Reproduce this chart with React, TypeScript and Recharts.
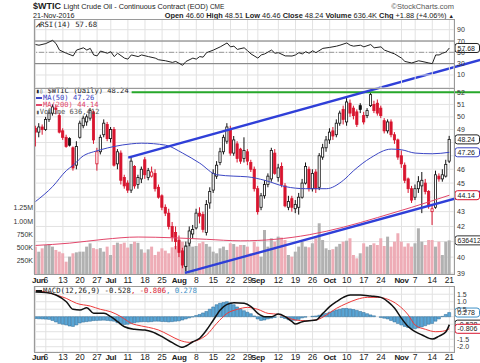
import React from "react";
import {
  Bar,
  CartesianGrid,
  Cell,
  ComposedChart,
  Line,
  ReferenceLine,
  XAxis,
  YAxis,
} from "recharts";

// daily candles, Jun 1 .. Nov 21 2016 (index = trading day)
const opens = [
  49.1, 48.8, 49.2, 49.0, 49.8, 50.3, 50.7, 50.1, 48.9, 48.4, 48.3, 47.6, 46.3, 48.4, 49.3, 49.6, 49.9, 50.4, 46.4, 47.3,
  48.6, 49.4, 48.3, 49.0, 46.4, 47.2, 45.4, 45.0, 44.5, 46.2, 44.9, 45.3, 46.7, 45.4, 45.5, 45.7, 44.7, 44.1, 43.3, 42.9,
  42.0, 41.6, 41.1, 40.4, 39.4, 40.9, 41.5, 41.9, 42.9, 42.8, 41.6, 43.6, 44.5, 45.5, 46.5, 47.3, 48.1, 49.0, 47.2, 47.9,
  47.5, 46.8, 47.3, 46.5, 46.0, 44.6, 43.3, 44.1, 44.9, 45.3, 47.2, 45.4, 46.2, 44.8, 43.3, 43.9, 43.2, 43.3, 44.0, 45.0,
  46.0, 44.6, 45.8, 44.7, 46.9, 47.6, 48.2, 48.9, 48.6, 49.5, 50.6, 49.6, 51.1, 50.7, 50.4, 50.9, 50.1, 50.1, 50.9, 51.0,
  51.1, 50.7, 49.7, 48.9, 49.6, 48.6, 48.2, 47.0, 46.3, 45.3, 44.6, 44.0, 44.6, 44.8, 45.0, 44.4, 43.0, 43.3, 45.5, 45.3,
  45.5, 46.6,
];
const highs = [
  49.3, 49.5, 49.4, 50.0, 50.6, 51.0, 51.0, 50.3, 49.1, 48.6, 48.4, 47.7, 48.1, 49.7, 50.1, 50.2, 50.7, 50.5, 47.6, 48.6,
  49.8, 49.6, 49.2, 49.2, 47.5, 47.4, 45.6, 45.2, 46.9, 46.3, 45.6, 46.2, 46.9, 46.1, 46.2, 46.0, 44.9, 44.2, 43.5, 43.2,
  42.3, 42.0, 41.4, 40.6, 41.0, 42.0, 42.1, 43.2, 43.3, 43.0, 43.8, 44.7, 46.0, 46.6, 47.6, 48.6, 49.5, 49.3, 48.5, 48.1,
  47.6, 48.4, 47.5, 46.7, 46.2, 44.8, 44.3, 45.2, 45.7, 47.6, 47.5, 46.4, 46.5, 45.0, 44.1, 44.1, 43.8, 44.3, 45.3, 46.5,
  46.2, 46.0, 46.0, 47.2, 47.9, 48.5, 49.1, 49.2, 49.8, 50.5, 50.9, 51.6, 51.4, 50.9, 50.6, 51.1, 50.4, 50.7, 52.0, 51.3,
  51.4, 50.9, 49.9, 49.8, 49.8, 48.8, 48.3, 47.4, 46.5, 45.4, 44.8, 44.9, 45.5, 45.8, 45.3, 44.5, 43.4, 45.9, 45.7, 46.0,
  46.7, 48.51,
];
const lows = [
  47.7, 48.4, 48.6, 48.9, 49.6, 50.1, 50.2, 48.7, 48.2, 47.6, 47.7, 45.9, 46.0, 48.3, 49.1, 49.3, 49.7, 47.9, 45.9, 47.1,
  48.4, 48.1, 48.0, 46.2, 46.0, 44.9, 44.6, 44.3, 44.3, 44.6, 44.6, 45.0, 45.3, 45.2, 45.4, 44.4, 43.9, 43.1, 42.7, 41.8,
  41.0, 40.5, 40.0, 39.3, 39.1, 40.7, 41.2, 41.8, 42.2, 41.6, 41.4, 43.2, 44.3, 45.3, 46.3, 47.1, 47.9, 47.0, 47.0, 46.5,
  46.4, 46.5, 46.3, 45.8, 44.4, 42.8, 43.1, 43.9, 44.7, 45.1, 45.6, 45.1, 44.7, 43.3, 43.1, 43.0, 42.9, 42.8, 43.9, 44.9,
  44.4, 44.4, 44.3, 44.5, 46.7, 47.3, 47.9, 48.2, 48.4, 49.3, 49.4, 49.3, 50.0, 49.8, 49.2, 50.3, 49.4, 49.9, 50.8, 50.3,
  50.1, 49.9, 48.7, 48.7, 48.4, 47.9, 46.7, 46.1, 45.0, 44.3, 43.6, 43.8, 44.3, 42.9, 44.2, 43.2, 42.1, 43.2, 45.1, 45.1,
  45.4, 46.46,
];
const closes = [
  48.8, 49.2, 49.0, 49.8, 50.3, 50.8, 50.6, 48.8, 48.4, 47.7, 47.8, 46.1, 47.7, 49.5, 49.9, 50.0, 50.5, 48.2, 47.3, 48.4,
  49.5, 48.3, 49.0, 46.3, 47.3, 45.2, 44.8, 44.5, 46.6, 44.8, 45.4, 46.0, 45.6, 45.9, 45.8, 44.6, 44.0, 43.3, 42.9, 42.0,
  41.3, 41.0, 40.3, 39.5, 40.7, 41.7, 41.8, 42.9, 42.7, 41.8, 43.5, 44.4, 45.7, 46.3, 47.3, 48.4, 49.2, 47.2, 48.2, 46.8,
  46.6, 47.4, 46.6, 46.0, 44.6, 43.0, 44.1, 44.9, 45.5, 47.4, 45.7, 46.1, 44.9, 43.4, 43.7, 43.3, 43.5, 44.0, 45.0, 46.2,
  44.6, 45.7, 44.6, 47.0, 47.6, 48.2, 48.8, 48.5, 49.5, 50.3, 49.8, 51.2, 50.3, 50.1, 49.4, 50.6, 49.6, 50.5, 51.8, 50.5,
  50.3, 50.1, 48.9, 49.6, 48.6, 48.2, 46.9, 46.4, 45.2, 44.6, 43.8, 44.6, 45.1, 45.2, 44.4, 43.4, 43.2, 45.6, 45.3, 45.6,
  46.36, 48.24,
];
// volume in thousands of contracts
const volumes = [
  517, 422, 486, 549, 568, 518, 455, 423, 392, 233, 328, 392, 410, 423, 423, 518, 580, 490, 470, 490,
  423, 518, 360, 549, 593, 570, 593, 500, 570, 612, 590, 467, 404, 467, 518, 360, 423, 486, 442, 392,
  505, 530, 404, 612, 549, 612, 518, 530, 581, 612, 568, 518, 423, 392, 486, 518, 455, 581, 568, 518,
  549, 549, 518, 392, 612, 518, 328, 833, 518, 676, 612, 707, 690, 644, 360, 328, 423, 518, 612, 518,
  505, 581, 676, 960, 644, 486, 455, 470, 518, 570, 612, 630, 676, 360, 297, 392, 581, 518, 549, 581,
  549, 676, 530, 707, 518, 612, 771, 612, 518, 581, 518, 581, 865, 612, 549, 644, 644, 518, 612, 360,
  612, 636.412,
];

const tickDays = [0, 3, 8, 13, 18, 22, 27, 32, 37, 42, 47, 52, 57, 62, 65, 71, 76, 81, 86, 91, 96, 101, 107, 111, 116, 121];
const tickLabels = ["Jun", "6", "13", "20", "27", "Jul", "11", "18", "25", "Aug", "8", "15", "22", "29", "Sep", "12", "19", "26", "Oct", "10", "17", "24", "Nov", "7", "14", "21"];

const ma50Days = [0, 5, 9, 11, 14, 17, 19, 23, 28, 31, 38, 43, 48, 53, 58, 62, 67, 73, 79, 85, 90, 93, 98, 104, 107, 111, 116, 121];
const ma50Values = [43.7, 44.75, 45.9, 46.3, 47.0, 47.3, 47.45, 47.7, 47.9, 47.95, 47.8, 47.2, 46.45, 45.6, 45.5, 45.45, 45.2, 44.75, 44.6, 44.6, 45.2, 45.9, 46.85, 47.5, 47.45, 47.2, 47.15, 47.26];

const ma200Days = [0, 10, 20, 30, 40, 50, 60, 70, 80, 90, 100, 110, 121];
const ma200Values = [40.75, 40.9, 41.15, 41.3, 41.25, 41.15, 41.05, 41.15, 41.45, 41.95, 42.6, 43.3, 44.14];

const rsiDays = [
  0, 1, 3, 5, 6, 7, 9, 11, 12, 14, 15, 16, 17, 18, 19, 21, 22, 23, 24, 26, 27, 28, 30, 31, 33, 35, 36, 38, 40, 41,
  43, 44, 46, 47, 48, 49, 50, 52, 54, 56, 57, 58, 59, 61, 62, 63, 65, 66, 67, 69, 70, 71, 73, 75, 76, 77, 78, 79, 80, 81,
  82, 84, 86, 88, 89, 91, 92, 93, 95, 96, 98, 99, 101, 102, 104, 105, 107, 108, 110, 112, 113, 115, 116, 117, 118, 119, 120, 121,
];
const rsiValues = [
  63.8, 62.6, 65.5, 71.2, 65.5, 54, 48.4, 43.7, 54, 58, 54, 57, 45.4, 43.7, 52.3, 48.4, 51.1, 42.5, 48.4, 39.8, 38, 45.4, 42.5, 45.4, 42.5, 39.8, 36.9, 35.1, 32.2, 33.9,
  27.1, 33.9, 39.8, 38, 42.5, 41.5, 49.4, 54, 59.7, 66.6, 59.7, 60.9, 55.2, 58, 52.8, 47.2, 39.8, 45.4, 47.2, 54, 48.4, 49.4, 43.7, 43.5, 45.4, 49.4, 47.2, 51.1, 48.4, 52.8,
  49.4, 57, 58.7, 60.9, 62.6, 66.6, 62.6, 60.9, 62.6, 59.7, 63.8, 58, 59.7, 54, 49.4, 47.2, 39.8, 33.9, 31.2, 35.1, 33.9, 31.2, 30, 45.4, 45.4, 48.4, 50.5, 57.68,
];

const macdDays = [0, 3, 6, 9, 11, 13, 15, 17, 20, 22, 24, 26, 29, 32, 34, 37, 40, 43, 44, 46, 48, 50, 52, 54, 56, 58, 61, 63, 65, 67, 69, 71, 73, 75, 76, 78, 80, 82, 84, 86, 88, 90, 92, 95, 98, 101, 103, 105, 107, 109, 111, 113, 116, 118, 120, 121];
const macdValues = [1.65, 1.62, 1.45, 1.0, 0.49, 0.45, 0.6, 0.23, 0.23, 0.0, -0.33, -0.67, -0.84, -0.89, -1.0, -1.33, -1.73, -2.04, -1.95, -1.67, -1.44, -0.89, -0.22, 0.45, 0.82, 0.93, 0.89, 0.67, 0.22, 0.0, 0.0, 0.18, 0.0, -0.33, -0.49, -0.33, -0.27, -0.22, 0.22, 0.67, 1.0, 1.29, 1.45, 1.45, 1.38, 1.29, 1.0, 0.56, -0.11, -0.67, -1.0, -1.22, -1.49, -1.29, -1.0, -0.528];
const signalDays = [0, 3, 6, 9, 12, 16, 19, 22, 25, 28, 31, 33, 36, 39, 42, 45, 47, 50, 53, 56, 59, 62, 65, 68, 71, 73, 76, 79, 82, 85, 88, 91, 94, 97, 100, 103, 106, 109, 111, 114, 117, 119, 121];
const signalValues = [1.75, 1.65, 1.45, 1.22, 0.89, 0.71, 0.49, 0.33, 0.0, -0.44, -0.62, -0.71, -0.89, -1.22, -1.56, -1.71, -1.6, -1.22, -0.44, 0.22, 0.49, 0.62, 0.49, 0.22, 0.16, 0.0, -0.22, -0.27, -0.22, 0.11, 0.56, 0.89, 1.16, 1.29, 1.29, 1.16, 0.78, 0.11, -0.56, -0.84, -1.0, -0.97, -0.806];
const histValues = [
  -0.12, -0.14, -0.15, -0.16, -0.18, -0.25, -0.35, -0.45, -0.5, -0.55, -0.62, -0.65, -0.55, -0.42, -0.36, -0.33, -0.3,
  -0.26, -0.25, -0.24, -0.23, -0.25, -0.27, -0.3, -0.4, -0.48, -0.52, -0.5, -0.45, -0.4, -0.36, -0.34, -0.33, -0.35, -0.33, -0.3,
  -0.3, -0.32, -0.33, -0.35, -0.33, -0.3, -0.28, -0.22, -0.15, -0.08, -0.02, 0.08, 0.15, 0.25, 0.35, 0.5, 0.65, 0.8, 0.9,
  0.95, 1.0, 0.92, 0.8, 0.65, 0.5, 0.4, 0.3, 0.2, 0.05, -0.15, -0.25, -0.22, -0.15, -0.1, -0.05, 0.0, -0.05,
  -0.12, -0.2, -0.25, -0.24, -0.18, -0.08, -0.03, 0.0, 0.03, 0.05, 0.1, 0.15, 0.22, 0.3, 0.38, 0.45, 0.5, 0.55, 0.55,
  0.52, 0.48, 0.42, 0.35, 0.28, 0.2, 0.12, 0.06, 0.0, -0.05, -0.1, -0.15, -0.25, -0.35, -0.45, -0.55,
  -0.65, -0.72, -0.78, -0.8, -0.75, -0.68, -0.6, -0.5, -0.45, -0.3, -0.15, 0.02, 0.15, 0.278,
];

const priceTicks = [39, 40, 41, 42, 43, 44, 45, 46, 47, 48, 49, 50, 51, 52];
const volumeTicks = [250, 500, 750, 1000, 1250];
const volumeTickLabels = ["250K", "500K", "750K", "1.00M", "1.25M"];
const rsiTicks = [10, 30, 50, 70, 90];
const macdTicks = [1.5, 1, 0.5, 0, -0.5, -1, -1.5, -2];
// axis labels that sit behind the last-value tags
const coveredPrice = [41, 44, 47, 48];
const coveredMacd = [0, -0.5, -1];

// annotations drawn on the price panel (day index, price)
const upperTrend = [{ x: 27.1, y: 46.86 }, { x: 130, y: 54.74 }];
const lowerTrend = [{ x: 43.7, y: 39.01 }, { x: 130, y: 44.39 }];
const resistance = [{ x: 28.1, y: 52 }, { x: 130, y: 52 }];

const X_DOMAIN: [number, number] = [-0.45, 122.35];
const RED = "#d8142e";
const FONT = "'Liberation Sans', Arial, sans-serif";
const MONO = "'DejaVu Sans Mono', monospace";

const candles = opens.map((open, i) => ({
  i,
  open,
  high: highs[i],
  low: lows[i],
  close: closes[i],
  prev: i ? closes[i - 1] : open,
  range: [lows[i], highs[i]],
  volume: volumes[i],
}));
const pairs = (days: number[], vals: number[]) => days.map((i, k) => ({ i, v: vals[k] }));
const ma50Data = pairs(ma50Days, ma50Values);
const ma200Data = pairs(ma200Days, ma200Values);
const rsiData = pairs(rsiDays, rsiValues);
const macdData = pairs(macdDays, macdValues);
const signalData = pairs(signalDays, signalValues);
const histData = histValues.map((h, i) => ({ i, h }));

function Candle(props: any) {
  const { x, y, width, height, payload } = props;
  const { open, close, high, low, prev } = payload;
  const lh = Math.log(high);
  const span = lh - Math.log(low) || 1;
  const toY = (v: number) => y + ((lh - Math.log(v)) / span) * height;
  const color = close < prev ? RED : "#111";
  const top = toY(Math.max(open, close));
  const bot = toY(Math.min(open, close));
  const cx = x + width / 2;
  return (
    <g>
      <line x1={cx} x2={cx} y1={y} y2={y + height} stroke={color} strokeWidth={1} />
      <rect
        x={x + 0.4}
        y={top}
        width={width - 0.8}
        height={Math.max(bot - top, 0.8)}
        fill={close >= open ? "#fff" : color}
        stroke={color}
        strokeWidth={0.8}
      />
    </g>
  );
}

function DayTick(props: any) {
  const { x, y, payload, dy } = props;
  const k = tickDays.indexOf(payload.value);
  const label = tickLabels[k] ?? "";
  const month = isNaN(Number(label));
  return (
    <text
      x={k === 0 ? x - 3.5 : x}
      y={y + dy}
      textAnchor={k === 0 ? "start" : "middle"}
      fontSize={month ? 8 : 8.5}
      fontWeight={month ? 700 : 400}
      letterSpacing={month ? -0.3 : 0}
      fontFamily={FONT}
      fill="#222"
    >
      {label}
    </text>
  );
}

function ValueTick(props: any) {
  const { x, y, payload, digits, skip } = props;
  if (skip && skip.includes(payload.value)) return <g />;
  return (
    <text x={x + 3} y={y + 2.5} fontSize={7} fontFamily={FONT} fill="#333">
      {Number(payload.value).toFixed(digits)}
    </text>
  );
}

function VolumeTick(props: any) {
  const { x, y, payload } = props;
  const label = volumeTickLabels[volumeTicks.indexOf(payload.value)] ?? "";
  return (
    <text x={x - 1} y={y + 2.5} textAnchor="end" fontSize={7} fontFamily={FONT} fill="#333">
      {label}
    </text>
  );
}

function boxTag(text: string, color: string) {
  return (props: any) => {
    const vb = props.viewBox;
    const x = vb.x + vb.width + 1;
    const y = vb.y;
    const w = text.length * 3.9 + 5;
    return (
      <g>
        <rect x={x} y={y - 4.5} width={w} height={9} rx={2.5} fill="#fff" stroke={color} strokeWidth={1} />
        <text x={x + 2.5} y={y + 2.6} fontSize={7} fontFamily={FONT} fill="#222">
          {text}
        </text>
      </g>
    );
  };
}

const frame = (top: number, height: number): React.CSSProperties => ({
  position: "absolute",
  left: 34,
  top,
  width: 421,
  height,
  boxSizing: "border-box",
  border: "1px solid #9a9a9a",
  pointerEvents: "none",
});

const abs = (left: number, top: number, extra: React.CSSProperties = {}): React.CSSProperties => ({
  position: "absolute",
  left,
  top,
  whiteSpace: "nowrap",
  ...extra,
});

const dash = (color: string) => (
  <span style={{ display: "inline-block", width: 6, height: 2, background: color, verticalAlign: "middle", marginRight: 1 }} />
);

export default function App() {
  return (
    <div style={{ position: "absolute", left: 0, top: 0, width: 480, height: 363, background: "#fff", overflow: "hidden", fontFamily: FONT, color: "#222" }}>
      {/* price + volume panel (svg extends upward so trend lines may cross the RSI panel) */}
      <div style={abs(0, 0)}>
        <ComposedChart width={480} height={287} data={candles} margin={{ top: 88, right: 0, bottom: 0, left: 0 }}>
          <CartesianGrid xAxisId="x" yAxisId="p" stroke="#e2e2e2" />
          <XAxis xAxisId="x" dataKey="i" type="number" domain={X_DOMAIN} allowDataOverflow ticks={tickDays} interval={0}
            axisLine={false} tickLine={false} tickSize={0} tickMargin={0} height={13} tick={<DayTick dy={9} />} />
          <XAxis xAxisId="v" orientation="top" dataKey="i" type="number" domain={X_DOMAIN} allowDataOverflow hide />
          <YAxis yAxisId="p" orientation="right" scale="log" domain={[38.94, 52.35]} allowDataOverflow ticks={priceTicks}
            interval={0} width={26} axisLine={false} tickLine={false} tickSize={0} tickMargin={0}
            tick={<ValueTick digits={0} skip={coveredPrice} />} />
          <YAxis yAxisId="vol" orientation="left" domain={[0, 3520]} allowDataOverflow ticks={volumeTicks} interval={0}
            width={34} axisLine={false} tickLine={false} tickSize={0} tickMargin={0} tick={<VolumeTick />} />
          <Bar xAxisId="v" yAxisId="vol" dataKey="volume" barSize={3} isAnimationActive={false}>
            {candles.map((c) => (
              <Cell key={c.i} fill={c.close < c.prev ? "#eeacb6" : "#b1b1b1"} />
            ))}
          </Bar>
          <Line xAxisId="x" yAxisId="p" data={ma200Data} dataKey="v" type="monotone" stroke="#e2466a" strokeWidth={1} dot={false} isAnimationActive={false} />
          <Bar xAxisId="x" yAxisId="p" dataKey="range" barSize={3} shape={Candle} isAnimationActive={false} />
          <Line xAxisId="x" yAxisId="p" data={ma50Data} dataKey="v" type="monotone" stroke="#3b46c4" strokeWidth={1} dot={false} isAnimationActive={false} />
          <ReferenceLine xAxisId="x" yAxisId="p" segment={resistance} stroke="#27a82b" strokeWidth={2} ifOverflow="visible" />
          <ReferenceLine xAxisId="x" yAxisId="p" segment={upperTrend} stroke="#2f3fd8" strokeWidth={2.5} ifOverflow="visible" />
          <ReferenceLine xAxisId="x" yAxisId="p" segment={lowerTrend} stroke="#2f3fd8" strokeWidth={2.5} ifOverflow="visible" />
          <ReferenceLine xAxisId="x" yAxisId="vol" y={636.412} stroke="none" ifOverflow="visible" label={boxTag("636412", "#333")} />
          <ReferenceLine xAxisId="x" yAxisId="p" y={44.14} stroke="none" ifOverflow="visible" label={boxTag("44.14", RED)} />
          <ReferenceLine xAxisId="x" yAxisId="p" y={47.26} stroke="none" ifOverflow="visible" label={boxTag("47.26", "#3b46c4")} />
          <ReferenceLine xAxisId="x" yAxisId="p" y={48.24} stroke="none" ifOverflow="visible" label={boxTag("48.24", "#222")} />
        </ComposedChart>
      </div>

      {/* RSI panel */}
      <div style={abs(0, 19)}>
        <ComposedChart width={480} height={69} data={rsiData} margin={{ top: 0, right: 0, bottom: 0, left: 34 }}>
          <CartesianGrid stroke="#e2e2e2" />
          <XAxis dataKey="i" type="number" domain={X_DOMAIN} allowDataOverflow ticks={tickDays} interval={0} hide />
          <YAxis orientation="right" domain={[-13, 108.9]} allowDataOverflow ticks={rsiTicks} interval={0} width={26}
            axisLine={false} tickLine={false} tickSize={0} tickMargin={0} tick={<ValueTick digits={0} />} />
          <ReferenceLine y={70} stroke="#7a7a7a" />
          <ReferenceLine y={30} stroke="#7a7a7a" />
          <ReferenceLine y={50} stroke="#9a9a9a" strokeDasharray="5 2 1 2" />
          <Line dataKey="v" type="linear" stroke="#222" strokeWidth={1} dot={false} isAnimationActive={false} />
          <ReferenceLine y={57.68} stroke="none" ifOverflow="visible" label={boxTag("57.68", "#222")} />
        </ComposedChart>
      </div>

      {/* MACD panel */}
      <div style={abs(0, 286)}>
        <ComposedChart width={480} height={77} data={histData} margin={{ top: 0, right: 0, bottom: 0, left: 34 }}>
          <CartesianGrid stroke="#e2e2e2" />
          <XAxis dataKey="i" type="number" domain={X_DOMAIN} allowDataOverflow ticks={tickDays} interval={0}
            axisLine={false} tickLine={false} tickSize={0} tickMargin={0} height={11} tick={<DayTick dy={8} />} />
          <YAxis orientation="right" domain={[-2.353, 2.047]} allowDataOverflow ticks={macdTicks} interval={0} width={26}
            axisLine={false} tickLine={false} tickSize={0} tickMargin={0} tick={<ValueTick digits={1} skip={coveredMacd} />} />
          <Bar dataKey="h" barSize={3} fill="#5aa6d6" stroke="#2c6a97" strokeWidth={0.5} isAnimationActive={false} />
          <Line data={signalData} dataKey="v" type="monotone" stroke="#ee3a3a" strokeWidth={1} dot={false} isAnimationActive={false} />
          <Line data={macdData} dataKey="v" type="monotone" stroke="#111" strokeWidth={1.5} dot={false} isAnimationActive={false} />
          <ReferenceLine y={0.278} stroke="none" ifOverflow="visible" label={boxTag("0.278", "#3d8fc6")} />
          <ReferenceLine y={-0.528} stroke="none" ifOverflow="visible" label={boxTag("-0.528", "#222")} />
          <ReferenceLine y={-0.806} stroke="none" ifOverflow="visible" label={boxTag("-0.806", RED)} />
        </ComposedChart>
      </div>

      {/* header */}
      <div style={abs(33, 0.5, { fontSize: 9, fontWeight: 700 })}>$WTIC</div>
      <div style={abs(63.5, 2, { fontSize: 7.3 })}>
        Light Crude Oil - Continuous Contract (EOD) <span style={{ fontSize: 6.5 }}>CME</span>
      </div>
      <div style={abs(0, 2, { left: "auto", right: 26, fontSize: 7.5, color: "#555" })}>©StockCharts.com</div>
      <div style={abs(33, 11, { fontSize: 7.2 })}>21-Nov-2016</div>
      <div style={abs(0, 11, { left: "auto", right: 26, fontSize: 7.4 })}>
        <b>Open</b> 46.60 <b>High</b> 48.51 <b>Low</b> 46.46 <b>Close</b> 48.24 <b>Volume</b> 636.4K <b>Chg</b> +1.88 (+4.06%){" "}
        <span style={{ fontSize: 5.5 }}>▲</span>
      </div>

      {/* legends */}
      <div style={abs(36, 20.5, { fontFamily: MONO, fontSize: 7.3, lineHeight: "8px" })}>
        <span style={{ fontWeight: 700 }}>⩘</span>RSI(14) 57.68
      </div>
      <div style={abs(36, 87, { fontFamily: MONO, fontSize: 7.1, lineHeight: "7px" })}>
        <div>
          <span style={{ fontSize: 6 }}>▮▯</span> $WTIC (Daily) 48.24
        </div>
        <div style={{ color: "#3b46c4" }}>
          {dash("#3b46c4")}MA(50) 47.26
        </div>
        <div style={{ color: "#e2466a" }}>
          {dash("#e2466a")}MA(200) 44.14
        </div>
        <div style={{ color: "#555" }}>
          <span style={{ fontSize: 6 }}>▮</span>Volume 636,412
        </div>
      </div>
      <div style={abs(36, 286.5, { fontFamily: MONO, fontSize: 7.3, lineHeight: "8px" })}>
        {dash("#111")}MACD(12,26,9) -0.528<span style={{ color: RED }}>, -0.806</span>
        <span style={{ color: "#3d8fc6" }}>, 0.278</span>
      </div>

      {/* panel frames */}
      <div style={frame(19, 70)} />
      <div style={frame(88, 187)} />
      <div style={frame(286, 67)} />
    </div>
  );
}
